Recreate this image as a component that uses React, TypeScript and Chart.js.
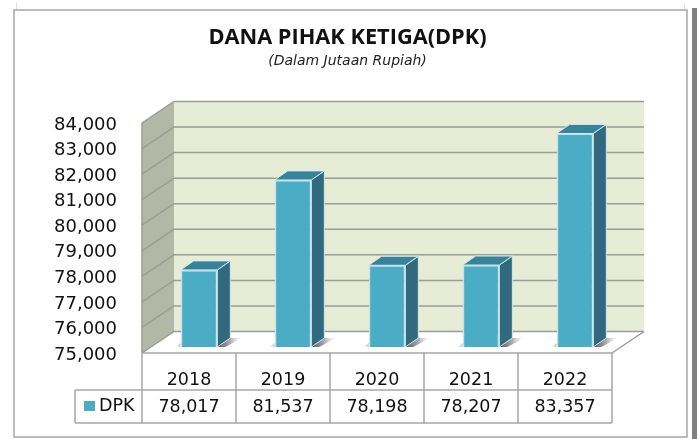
import React, { useEffect, useRef } from "react";
import { Chart, registerables } from "chart.js";

Chart.register(...registerables);

const years = ["2018", "2019", "2020", "2021", "2022"];
const dpkValues = [78017, 81537, 78198, 78207, 83357];
const seriesName = "DPK";
const titleText = "DANA PIHAK KETIGA(DPK)";
const subtitleText = "(Dalam Jutaan Rupiah)";

const FONT = "'DejaVu Sans'";
const WALL_DX = 32;
const WALL_DY = -21.5;
const BAR_SHIFT_X = 10;
const BAR_SHIFT_Y = -6;
const BAR_DX = 13;
const BAR_DY = -9;
const GRID = "#9c9c94";
const LINE = "#a6a6a6";

function poly(ctx: CanvasRenderingContext2D, pts: number[][], fill?: any, stroke?: string, lw = 1) {
  ctx.beginPath();
  pts.forEach((p, i) => (i ? ctx.lineTo(p[0], p[1]) : ctx.moveTo(p[0], p[1])));
  ctx.closePath();
  if (fill) { ctx.fillStyle = fill; ctx.fill(); }
  if (stroke) { ctx.strokeStyle = stroke; ctx.lineWidth = lw; ctx.stroke(); }
}

const scenePlugin = {
  id: "scene",
  beforeDraw(chart: any) {
    const { ctx } = chart;
    ctx.save();
    ctx.fillStyle = "#ffffff";
    ctx.fillRect(0, 0, chart.width, chart.height);
    ctx.strokeStyle = LINE;
    ctx.lineWidth = 1.5;
    ctx.strokeRect(14, 10, 673, 427);
    ctx.fillStyle = "#808080";
    ctx.fillRect(692, 8, 5, 431);
    ctx.fillStyle = "#d5dcf0";
    ctx.fillRect(16, 3, 1, 6);
    ctx.fillRect(684, 3, 1, 6);
    ctx.restore();
  },
  beforeDatasetsDraw(chart: any) {
    const { ctx, chartArea: a, scales } = chart;
    const y = scales.y;
    const l = a.left, r = a.right, t = a.top, b = a.bottom;
    ctx.save();
    poly(ctx, [[l + WALL_DX, t + WALL_DY], [r + WALL_DX, t + WALL_DY], [r + WALL_DX, b + WALL_DY], [l + WALL_DX, b + WALL_DY]], "#e6ecd6");
    poly(ctx, [[l, t], [l + WALL_DX, t + WALL_DY], [l + WALL_DX, b + WALL_DY], [l, b]], "#b3b8a6");
    poly(ctx, [[l, b], [l + WALL_DX, b + WALL_DY], [r + WALL_DX, b + WALL_DY], [r, b]], "#ffffff");
    ctx.strokeStyle = GRID;
    ctx.lineWidth = 1.5;
    y.ticks.forEach((tk: any) => {
      const py = y.getPixelForValue(tk.value);
      ctx.beginPath();
      ctx.moveTo(l, py);
      ctx.lineTo(l + WALL_DX, py + WALL_DY);
      ctx.lineTo(r + WALL_DX, py + WALL_DY);
      ctx.stroke();
    });
    ctx.beginPath();
    ctx.moveTo(l, t);
    ctx.lineTo(l, b);
    ctx.moveTo(r, b);
    ctx.lineTo(r + WALL_DX, b + WALL_DY);
    ctx.stroke();
    ctx.restore();
  },
  beforeDatasetDraw(chart: any, args: any) {
    const { ctx } = chart;
    ctx.save();
    ctx.translate(BAR_SHIFT_X, BAR_SHIFT_Y);
    args.meta.data.forEach((el: any) => {
      const x0 = el.x - el.width / 2;
      const x1 = el.x + el.width / 2;
      const g = ctx.createLinearGradient(x1 + 2, el.base, x1 + 25, el.base);
      g.addColorStop(0, "rgba(85,85,85,0.95)");
      g.addColorStop(0.45, "rgba(130,130,130,0.7)");
      g.addColorStop(1, "rgba(210,210,210,0)");
      poly(ctx, [[x1, el.base], [x1 + BAR_DX, el.base + BAR_DY], [x1 + 25, el.base + BAR_DY], [x1 + 8, el.base]], g);
      const g2 = ctx.createLinearGradient(x0 - 6, el.base, x0, el.base);
      g2.addColorStop(0, "rgba(210,210,210,0)");
      g2.addColorStop(1, "rgba(160,160,160,0.6)");
      poly(ctx, [[x0, el.base - 4], [x0, el.base], [x0 - 6, el.base]], g2);
      poly(ctx, [[x1, el.y], [x1 + BAR_DX, el.y + BAR_DY], [x1 + BAR_DX, el.base + BAR_DY], [x1, el.base]], "#31697e", "#d4e8ee", 1);
      poly(ctx, [[x0, el.y], [x0 + BAR_DX, el.y + BAR_DY], [x1 + BAR_DX, el.y + BAR_DY], [x1, el.y]], "#378399", "#d4e8ee", 1);
    });
  },
  afterDatasetDraw(chart: any) {
    chart.ctx.restore();
  },
  afterDraw(chart: any) {
    const { ctx, chartArea: a, scales } = chart;
    const x = scales.x;
    const cats: string[] = chart.data.labels;
    const vals: number[] = chart.data.datasets[0].data;
    const step = (a.right - a.left) / cats.length;
    const rowA = 390, rowB = 423, legendLeft = 75;
    ctx.save();
    ctx.strokeStyle = LINE;
    ctx.lineWidth = 1.5;
    ctx.beginPath();
    ctx.moveTo(a.left, a.bottom);
    ctx.lineTo(a.right, a.bottom);
    ctx.moveTo(legendLeft, rowA);
    ctx.lineTo(a.right, rowA);
    ctx.moveTo(legendLeft, rowB);
    ctx.lineTo(a.right, rowB);
    ctx.moveTo(legendLeft, rowA);
    ctx.lineTo(legendLeft, rowB);
    for (let i = 0; i <= cats.length; i++) {
      ctx.moveTo(a.left + i * step, a.bottom);
      ctx.lineTo(a.left + i * step, rowB);
    }
    ctx.stroke();
    ctx.fillStyle = "#111111";
    ctx.font = `17.5px ${FONT}`;
    ctx.textBaseline = "middle";
    ctx.textAlign = "center";
    vals.forEach((v, i) => ctx.fillText(v.toLocaleString("en-US"), x.getPixelForValue(i), 407));
    ctx.textAlign = "left";
    ctx.fillText(chart.data.datasets[0].label, 99, 406);
    ctx.fillStyle = chart.data.datasets[0].backgroundColor;
    ctx.fillRect(84, 401, 11, 10);
    ctx.restore();
  },
};

export default function App() {
  const ref = useRef<HTMLCanvasElement>(null);
  useEffect(() => {
    const chart = new Chart(ref.current as HTMLCanvasElement, {
      type: "bar",
      data: {
        labels: years,
        datasets: [
          {
            label: seriesName,
            data: dpkValues,
            base: 75000,
            backgroundColor: "#4bacc6",
            borderColor: "#c4e3ec",
            borderWidth: 1.5,
            barPercentage: 0.39,
            categoryPercentage: 1,
            clip: false,
          } as any,
        ],
      },
      options: {
        responsive: false,
        animation: false,
        layout: { padding: { left: 0, right: 5, top: 0, bottom: 0 } },
        plugins: {
          legend: { display: false },
          tooltip: { enabled: false },
          title: {
            display: true,
            text: titleText,
            color: "#111111",
            font: { family: "'Open Sans'", size: 21.75, weight: "bold" },
            padding: { top: 25, bottom: 2 },
          },
          subtitle: {
            display: true,
            text: subtitleText,
            color: "#222222",
            font: { family: FONT, size: 14, style: "italic" },
            padding: { top: 0, bottom: 53.1 },
          },
        },
        scales: {
          x: {
            grid: { display: false, drawTicks: false },
            border: { display: false },
            ticks: { color: "#111111", font: { family: FONT, size: 17.5 }, padding: 17, maxRotation: 0, autoSkip: false },
            afterFit(s: any) { s.height = 86; },
          },
          y: {
            min: 75000,
            max: 84000,
            grid: { display: false, drawTicks: false },
            border: { display: false },
            ticks: {
              stepSize: 1000,
              color: "#111111",
              font: { family: FONT, size: 18 },
              padding: 25,
              labelOffset: 2,
              callback: (v: any) => Number(v).toLocaleString("en-US"),
            },
            afterFit(s: any) { s.width = 142; },
          },
          spacer: {
            type: "linear",
            position: "right",
            grid: { display: false, drawTicks: false },
            border: { display: false },
            ticks: { display: false },
            afterFit(s: any) { s.width = 83; },
          },
        },
      } as any,
      plugins: [scenePlugin as any],
    });
    return () => chart.destroy();
  }, []);
  return (
    <canvas
      ref={ref}
      width={700}
      height={439}
      style={{ position: "fixed", left: 0, top: 0, width: 700, height: 439, display: "block" }}
    />
  );
}
